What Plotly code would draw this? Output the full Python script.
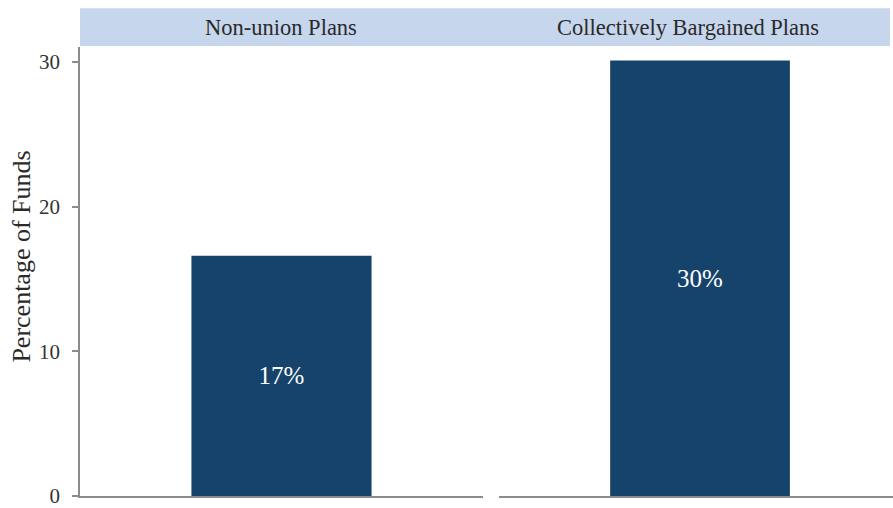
import plotly.graph_objects as go

panels = ["Non-union Plans", "Collectively Bargained Plans"]
values = [16.6, 30.1]
labels = ["17%", "30%"]
y_ticks = [0, 10, 20, 30]
y_title = "Percentage of Funds"

W, H = 893, 508
ML, MR, MT, MB = 80, 0, 47, 9
pw = W - ML - MR
ph = H - MT - MB
def px(x):
    return (x - ML) / pw
def py(y):
    return (H - MB - y) / ph

FONT = "Liberation Serif"
BAR = "#16436C"
AXC = "#8c8c8c"
TXT = "#333333"

fig = go.Figure()
for i, (p, v, l) in enumerate(zip(panels, values, labels)):
    fig.add_trace(go.Bar(
        x=[p], y=[v], text=[l], width=0.447,
        textposition="inside", insidetextanchor="middle",
        textfont=dict(family=FONT, size=25, color="white"),
        marker=dict(color=BAR, line=dict(width=0)),
        xaxis="x" if i == 0 else "x2", yaxis="y" if i == 0 else "y2",
        showlegend=False, hoverinfo="skip", cliponaxis=False,
    ))

yr = [0, 31.03]
fig.update_layout(
    width=W, height=H, margin=dict(l=ML, r=MR, t=MT, b=MB),
    paper_bgcolor="white", plot_bgcolor="white",
    font=dict(family=FONT, color=TXT),
    xaxis=dict(domain=[0, px(483)], range=[-0.5, 0.5], showticklabels=False,
               showline=True, linecolor=AXC, linewidth=1.5, ticks="",
               showgrid=False, zeroline=False),
    xaxis2=dict(domain=[px(499), 1], range=[-0.5, 0.48], showticklabels=False,
                showline=True, linecolor=AXC, linewidth=1.5, ticks="",
                showgrid=False, zeroline=False, anchor="y2"),
    yaxis=dict(range=yr, tickvals=y_ticks, showline=True, linecolor=AXC, linewidth=1.5,
               ticks="outside", ticklen=6, tickcolor=AXC, tickwidth=1.5,
               tickfont=dict(family=FONT, size=21, color=TXT), ticklabelstandoff=8,
               ticklabeloverflow="allow",
               showgrid=False, zeroline=False),
    yaxis2=dict(range=yr, anchor="x2", showticklabels=False, showline=False,
                ticks="", showgrid=False, zeroline=False),
)

# strip header
fig.add_shape(type="rect", xref="paper", yref="paper",
              x0=0, x1=px(890), y0=py(46), y1=py(8),
              fillcolor="#C6D6EC", line=dict(width=0), layer="below")
for cx, p in zip([281, 688], panels):
    fig.add_annotation(x=px(cx), y=py(27), xref="paper", yref="paper",
                       text=p, showarrow=False, xanchor="center", yanchor="middle",
                       font=dict(family=FONT, size=22.5, color="#2a2a2a"))

fig.add_annotation(x=px(22), y=py(258), xref="paper", yref="paper",
                   text=y_title, textangle=-90, showarrow=False,
                   xanchor="center", yanchor="middle",
                   font=dict(family=FONT, size=26, color="#2a2a2a"))

fig.write_html("out.html", config={"displayModeBar": False},
               post_script="document.body.style.margin='0';document.body.style.overflow='hidden';")
